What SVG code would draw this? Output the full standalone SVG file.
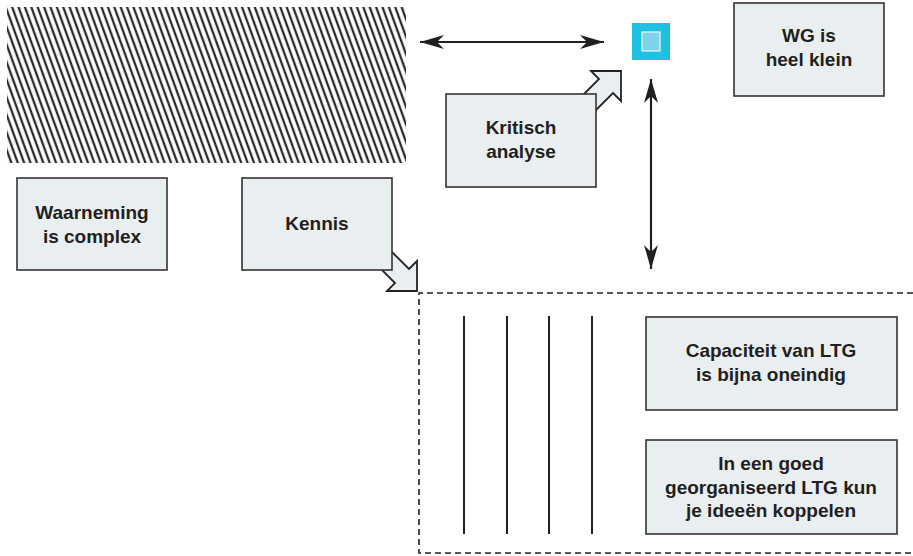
<svg xmlns="http://www.w3.org/2000/svg" width="913" height="556" viewBox="0 0 913 556">
<style>
.box{fill:#e9eef0;stroke:#333;stroke-width:1.6}
.blk{fill:#e9eef0;stroke:#222;stroke-width:1.8;stroke-linejoin:miter}
.t{font-family:"Liberation Sans",Arial,sans-serif;font-weight:bold;font-size:19px;fill:#231f20;text-anchor:middle}
.ln{stroke:#231f20;stroke-width:2.2;fill:none}
.vl{stroke:#231f20;stroke-width:2}
.dash{fill:none;stroke:#231f20;stroke-width:1.6;stroke-dasharray:6 4}
</style>
<defs>
<pattern id="hatch" width="6" height="20" patternUnits="userSpaceOnUse" patternTransform="rotate(-20)">
<rect width="6" height="20" fill="#fff"/>
<line x1="3" y1="0" x2="3" y2="20" stroke="#2a2a2a" stroke-width="2.3"/>
</pattern>
<marker id="ah" viewBox="-25 -8 26 16" refX="0" refY="0" markerWidth="26" markerHeight="16" markerUnits="userSpaceOnUse" orient="auto-start-reverse">
<path d="M0,0 L-24,-7 L-17,0 L-24,7 Z" fill="#231f20"/>
</marker>
<path id="barrow" d="M0,0 L0,-30 L-8,-22 L-40,-54 L-54,-40 L-22,-8 L-30,0 Z"/>
</defs>
<rect id="hatched" x="7" y="7" width="399" height="156" fill="url(#hatch)"/>
<g id="connectors">
<line class="ln" x1="420" y1="42" x2="604" y2="42" marker-start="url(#ah)" marker-end="url(#ah)"/>
<line class="ln" x1="651" y1="79" x2="651" y2="269" marker-start="url(#ah)" marker-end="url(#ah)"/>
<use href="#barrow" class="blk" transform="translate(417,291)"/>
<use href="#barrow" class="blk" transform="translate(621,71) scale(1,-1)"/>
</g>
<g id="wg-icon">
<rect x="632" y="23" width="38" height="37" fill="#1fc0e0"/>
<rect x="642" y="32" width="18" height="19" fill="#7dd3ea" stroke="#e8f7fb" stroke-width="1.2"/>
</g>
<g id="waarneming">
<rect class="box" x="17" y="178" width="150" height="92"/>
<text class="t" x="92" y="219">Waarneming</text>
<text class="t" x="92" y="243">is complex</text>
</g>
<g id="kennis">
<rect class="box" x="242" y="178" width="150" height="92"/>
<text class="t" x="317" y="230">Kennis</text>
</g>
<g id="kritisch">
<rect class="box" x="446" y="94" width="150" height="93"/>
<text class="t" x="521" y="134">Kritisch</text>
<text class="t" x="521" y="158">analyse</text>
</g>
<g id="wg">
<rect class="box" x="734" y="3" width="150" height="93"/>
<text class="t" x="809" y="42">WG is</text>
<text class="t" x="809" y="66">heel klein</text>
</g>
<g id="ltg">
<path class="dash" d="M913,293 L419,293 L419,553 L913,553"/>
<line class="vl" x1="464" y1="316" x2="464" y2="534"/>
<line class="vl" x1="507" y1="316" x2="507" y2="534"/>
<line class="vl" x1="549" y1="316" x2="549" y2="534"/>
<line class="vl" x1="592" y1="316" x2="592" y2="534"/>
</g>
<g id="capaciteit">
<rect class="box" x="646" y="317" width="251" height="93"/>
<text class="t" x="771" y="357">Capaciteit van LTG</text>
<text class="t" x="771" y="381">is bijna oneindig</text>
</g>
<g id="ideeen">
<rect class="box" x="646" y="440" width="251" height="94"/>
<text class="t" x="771" y="470">In een goed</text>
<text class="t" x="771" y="494">georganiseerd LTG kun</text>
<text class="t" x="771" y="517">je ideeën koppelen</text>
</g>
</svg>
